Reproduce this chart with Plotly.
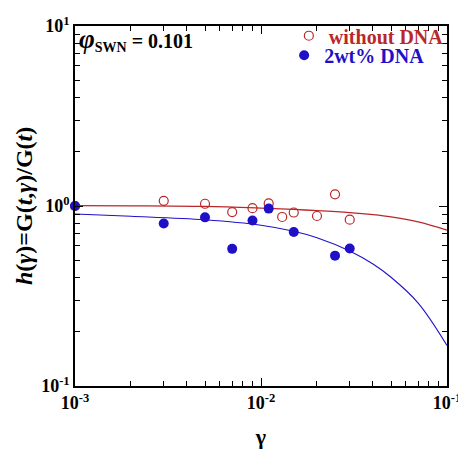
import plotly.graph_objects as go

# measured points
gamma_red = [0.001, 0.003, 0.005, 0.007, 0.009, 0.011, 0.013, 0.015, 0.020, 0.025, 0.030]
h_red = [1.0, 1.068, 1.029, 0.925, 0.972, 1.034, 0.869, 0.920, 0.880, 1.161, 0.840]

gamma_blue = [0.001, 0.003, 0.005, 0.007, 0.009, 0.011, 0.015, 0.025, 0.030]
h_blue = [1.0, 0.799, 0.865, 0.578, 0.830, 0.967, 0.717, 0.530, 0.580]

# fitted curves
gamma_fit = [0.001, 0.002, 0.005, 0.01, 0.015, 0.02, 0.03, 0.04, 0.05, 0.07, 0.1]
h_fit_red = [1.004, 1.002, 0.994, 0.973, 0.957, 0.943, 0.919, 0.895, 0.870, 0.816, 0.735]
h_fit_blue = [0.902, 0.877, 0.838, 0.782, 0.724, 0.667, 0.563, 0.476, 0.402, 0.289, 0.168]

x_tickvals = [0.001, 0.01, 0.1]
x_ticktext = ["<b>10<sup>-3</sup></b>", "<b>10<sup>-2</sup></b>", "<b>10<sup>-1</sup></b>"]
x_minor = [m * d for d in (0.001, 0.01) for m in range(2, 10)]
y_tickvals = [0.1, 1, 10]
y_ticktext = ["<b>10<sup>-1</sup></b>", "<b>10<sup>0</sup></b>", "<b>10<sup>1</sup></b>"]
y_minor = [m * d for d in (0.1, 1) for m in range(2, 10)]

RED = "#b8282a"
BLUE = "#1f10c8"
FONT = "Liberation Serif"

fig = go.Figure()
fig.add_trace(go.Scatter(x=gamma_fit, y=h_fit_red, mode="lines", line=dict(color=RED, width=1.3, shape="spline"),
                         showlegend=False, hoverinfo="skip"))
fig.add_trace(go.Scatter(x=gamma_fit, y=h_fit_blue, mode="lines", line=dict(color=BLUE, width=1.1, shape="spline"),
                         showlegend=False, hoverinfo="skip"))
fig.add_trace(go.Scatter(x=gamma_red, y=h_red, mode="markers",
                         marker=dict(symbol="circle-open", size=9, color=RED, line=dict(width=1.2, color=RED)),
                         name="<span style='color:" + RED + "'><b>without DNA</b></span>",
                         cliponaxis=False, legend="legend"))
fig.add_trace(go.Scatter(x=gamma_blue, y=h_blue, mode="markers",
                         marker=dict(symbol="circle", size=10, color=BLUE),
                         name="<span style='color:" + BLUE + "'><b>2wt% DNA</b></span>",
                         cliponaxis=False, legend="legend2"))

axis_common = dict(type="log", showgrid=False, zeroline=False, showline=True, linecolor="black", linewidth=1.5,
                   mirror="allticks", ticks="inside", ticklen=8, tickwidth=1, tickcolor="black",
                   automargin=False,
                   tickfont=dict(family=FONT, size=18, color="black"))

fig.update_xaxes(range=[-3, -1], tickmode="array", tickvals=x_tickvals, ticktext=x_ticktext,
                 minor=dict(tickmode="array", tickvals=x_minor, ticks="inside", ticklen=5, tickwidth=1,
                            tickcolor="black", showgrid=False),
                 title=dict(text="<b>γ</b>", font=dict(family=FONT, size=22, color="black"), standoff=16),
                 **axis_common)
fig.update_yaxes(range=[-1, 1], tickmode="array", tickvals=y_tickvals, ticktext=y_ticktext,
                 minor=dict(tickmode="array", tickvals=y_minor, ticks="inside", ticklen=5, tickwidth=1,
                            tickcolor="black", showgrid=False),
                 **axis_common)

fig.add_annotation(xref="paper", yref="paper", x=-0.137, y=0.5, xanchor="center", yanchor="middle",
                   textangle=-90, showarrow=False,
                   text="<b><i>h</i>(<i>γ</i>)=G(<i>t</i>,<i>γ</i>)/G(<i>t</i>)</b>",
                   font=dict(family=FONT, size=24, color="black"))
fig.add_annotation(xref="paper", yref="paper", x=0.006, y=1.012, xanchor="left", yanchor="top", showarrow=False,
                   text="<b><i><span style='font-size:27px'>φ</span></i><sub>SWN</sub> = 0.101</b>",
                   font=dict(family=FONT, size=20, color="black"))

legend_common = dict(xanchor="right", yanchor="middle", bgcolor="rgba(0,0,0,0)",
                     font=dict(family=FONT, size=20), itemwidth=30)
fig.update_layout(width=458, height=444, margin=dict(l=67, r=19, t=8, b=66),
                  paper_bgcolor="white", plot_bgcolor="white",
                  legend=dict(x=1.005, y=(386 - 26) / 370, **legend_common),
                  legend2=dict(x=0.952, y=(386 - 46) / 370, **legend_common),
                  font=dict(family=FONT))

fig.write_html("out.html")
